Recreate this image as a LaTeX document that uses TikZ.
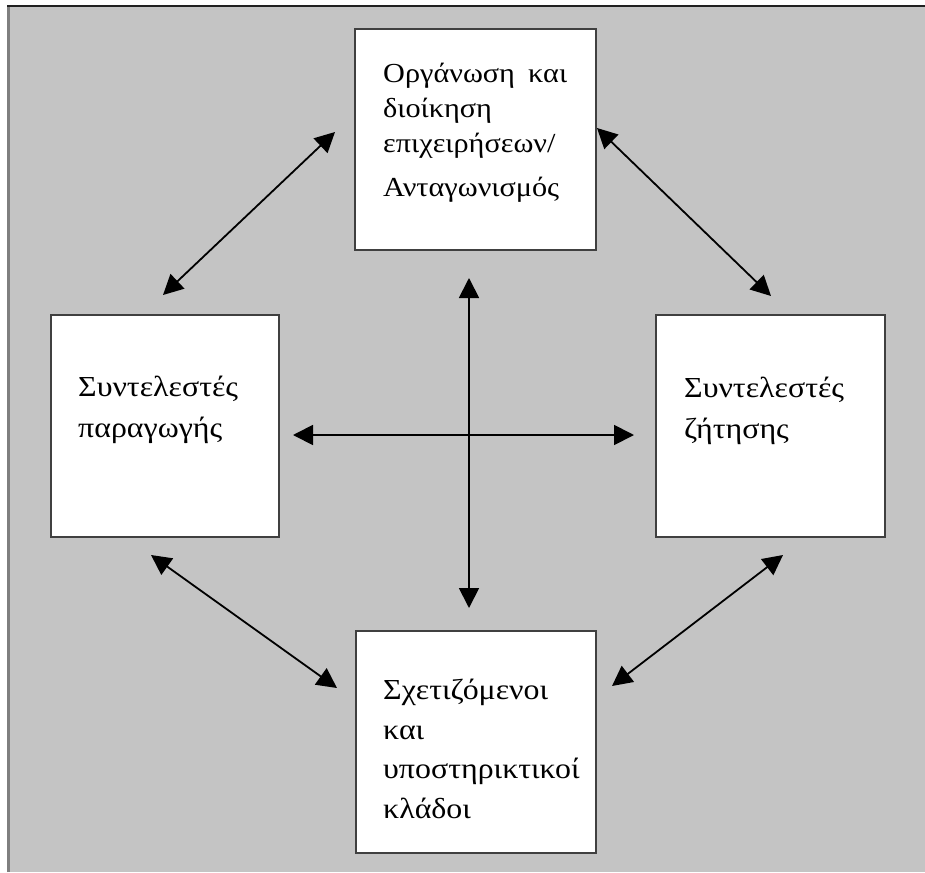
\documentclass[tikz,border=0pt]{standalone}
\usepackage{fontspec}
\setmainfont[FakeStretch=1.1]{Liberation Serif}
\usetikzlibrary{arrows.meta}
\definecolor{bggray}{HTML}{C4C4C4}
\definecolor{leftedge}{HTML}{7F7F7F}
\definecolor{topedge}{HTML}{202020}
\definecolor{boxedge}{HTML}{404040}
\begin{document}
\begin{tikzpicture}[x=1pt,y=-1pt,
  box/.style={draw=boxedge,line width=1.5pt,fill=white,inner sep=0pt},
  txt/.style={anchor=base west,inner sep=0pt,align=left,font=\fontsize{29}{41}\selectfont},
  toptxt/.style={anchor=base west,inner sep=0pt,align=left,font=\fontsize{27.5}{35}\selectfont},
  dbl/.style={{Triangle[length=20pt,width=20pt]}-{Triangle[length=20pt,width=20pt]},line width=1.8pt,draw=black}]
\useasboundingbox (0,0) rectangle (925,872);
\fill[white] (0,0) rectangle (925,872);
\fill[bggray] (7,5) rectangle (925,872);
\draw[leftedge,line width=3pt] (8.5,872) -- (8.5,6);
\draw[topedge,line width=2pt] (7,6) -- (925,6);
% boxes
\node[box,minimum width=241pt,minimum height=221pt] (top) at (475.5,139.5) {};
\node[box,minimum width=228pt,minimum height=222pt] (left) at (165,426) {};
\node[box,minimum width=229pt,minimum height=222pt] (right) at (770.5,426) {};
\node[box,minimum width=240pt,minimum height=222pt] (bottom) at (476,742) {};
% texts (anchor = baseline of the last line)
\node[toptxt] (ttop) at (383,196) {\hbox to 184pt{Οργάνωση\hfill και}\\διοίκηση\\επιχειρήσεων/\\[9pt]Ανταγωνισμός};
\node[txt] (tleft) at (78,437) {Συντελεστές\\παραγωγής};
\node[txt] (tright) at (684,438) {Συντελεστές\\ζήτησης};
\node[txt,font=\fontsize{29}{39.5}\selectfont] (tbottom) at (383,818) {Σχετιζόμενοι\\και\\υποστηρικτικοί\\κλάδοι};
% arrow end points
\coordinate (tl1) at (163,295); \coordinate (tl2) at (335,132);
\coordinate (tr1) at (597,128); \coordinate (tr2) at (771,296);
\coordinate (bl1) at (151,555); \coordinate (bl2) at (337,688);
\coordinate (br1) at (783,555); \coordinate (br2) at (612,686);
\coordinate (vt) at (469,278); \coordinate (vb) at (469,608);
\coordinate (hl) at (293,435); \coordinate (hr) at (634,435);
\draw[dbl] (tl1) -- (tl2);
\draw[dbl] (tr1) -- (tr2);
\draw[dbl] (bl1) -- (bl2);
\draw[dbl] (br1) -- (br2);
\draw[dbl] (vt) -- (vb);
\draw[dbl] (hl) -- (hr);
\end{tikzpicture}
\end{document}
